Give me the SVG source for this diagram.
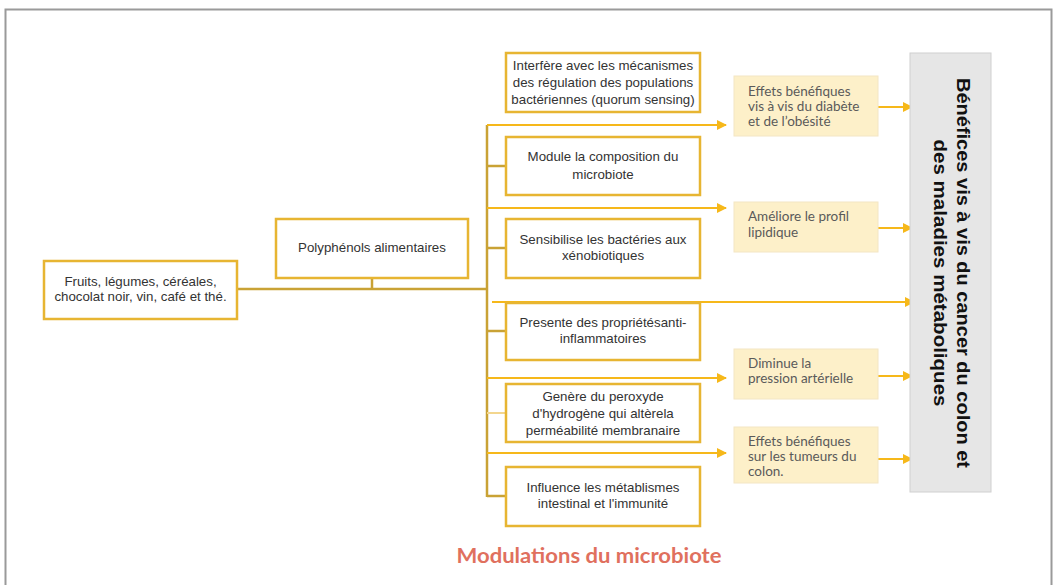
<svg xmlns="http://www.w3.org/2000/svg" width="1056" height="585" viewBox="0 0 1056 585">
<defs>
<marker id="ah" viewBox="0 0 10 10" refX="9" refY="5" markerWidth="10" markerHeight="10" markerUnits="userSpaceOnUse" orient="auto">
<path d="M0,0 L10,5 L0,10 z" fill="#F6B81A"/>
</marker>
</defs>
<style>
.node{fill:#fff;stroke:#E7B532;stroke-width:2.5}
.eff{fill:#FDF0C9;stroke:#F3E6C4;stroke-width:1}
.t{font-family:"Liberation Sans",Arial,sans-serif;font-size:13.3px;fill:#333;text-anchor:middle}
.e{font-family:"Lato","Liberation Sans",sans-serif;font-size:13.5px;fill:#5a5a5a}
.tr{stroke:#C9A235;stroke-width:2.5;fill:none}
.ar{stroke:#F6B81A;stroke-width:2;fill:none;marker-end:url(#ah)}
</style>
<rect width="1056" height="585" fill="#fff"/>
<rect x="5.5" y="9.5" width="1046" height="620" fill="none" stroke="#9a9a9a" stroke-width="2"/>

<g id="connectors">
<path class="tr" d="M237,289 H487"/>
<path class="tr" d="M372,278 V289"/>
<path class="tr" d="M487,125 V497"/>
<path class="tr" d="M487,166 H506"/>
<path class="tr" d="M487,248 H506"/>
<path class="tr" d="M487,331 H506"/>
<path d="M487,413 H506" stroke="#F3D68E" stroke-width="2"/>
<path class="tr" d="M487,496 H506"/>
<path class="ar" d="M487,125 H726"/>
<path class="ar" d="M487,208 H726"/>
<path class="ar" d="M492,302 H914"/>
<path class="ar" d="M487,378 H726"/>
<path class="ar" d="M487,453 H726"/>
<path class="ar" d="M878,107 H912"/>
<path class="ar" d="M878,228 H912"/>
<path class="ar" d="M874,376 H912"/>
<path class="ar" d="M874,459 H912"/>
</g>

<g id="fruits">
<rect class="node" x="44" y="261" width="193" height="58"/>
<text class="t" x="140.5" y="286">Fruits, légumes, céréales,</text>
<text class="t" x="140.5" y="301">chocolat noir, vin, café et thé.</text>
</g>
<g id="polyphenols">
<rect class="node" x="276" y="219" width="192" height="59"/>
<text class="t" x="372" y="252">Polyphénols alimentaires</text>
</g>
<g id="interfere">
<rect class="node" x="506" y="53" width="194" height="59"/>
<text class="t" x="603" y="70">Interfère avec les mécanismes</text>
<text class="t" x="603" y="87">des régulation des populations</text>
<text class="t" x="603" y="104">bactériennes (quorum sensing)</text>
</g>
<g id="module">
<rect class="node" x="506" y="137" width="194" height="58"/>
<text class="t" x="603" y="161">Module la composition du</text>
<text class="t" x="603" y="179">microbiote</text>
</g>
<g id="sensibilise">
<rect class="node" x="506" y="219" width="194" height="59"/>
<text class="t" x="603" y="244">Sensibilise les bactéries aux</text>
<text class="t" x="603" y="260">xénobiotiques</text>
</g>
<g id="presente">
<rect class="node" x="506" y="303" width="194" height="57"/>
<text class="t" x="603" y="327">Presente des propriétésanti-</text>
<text class="t" x="603" y="343">inflammatoires</text>
</g>
<g id="genere">
<rect class="node" x="506" y="384" width="194" height="58"/>
<text class="t" x="603" y="401">Genère du peroxyde</text>
<text class="t" x="603" y="418">d'hydrogène qui altèrela</text>
<text class="t" x="603" y="435">perméabilité membranaire</text>
</g>
<g id="influence">
<rect class="node" x="506" y="467" width="194" height="59"/>
<text class="t" x="603" y="492">Influence les métablismes</text>
<text class="t" x="603" y="508">intestinal et l'immunité</text>
</g>

<g id="effets-diabete">
<rect class="eff" x="734" y="76" width="144" height="60"/>
<text class="e" x="748" y="96">Effets bénéfiques</text>
<text class="e" x="748" y="111">vis à vis du diabète</text>
<text class="e" x="748" y="126">et de l’obésité</text>
</g>
<g id="ameliore">
<rect class="eff" x="734" y="202" width="144" height="50"/>
<text class="e" x="748" y="221">Améliore le profil</text>
<text class="e" x="748" y="237">lipidique</text>
</g>
<g id="diminue">
<rect class="eff" x="734" y="349" width="144" height="50"/>
<text class="e" x="748" y="368">Diminue la</text>
<text class="e" x="748" y="383">pression artérielle</text>
</g>
<g id="tumeurs">
<rect class="eff" x="734" y="427" width="144" height="56"/>
<text class="e" x="748" y="446">Effets bénéfiques</text>
<text class="e" x="748" y="461">sur les tumeurs du</text>
<text class="e" x="748" y="476">colon.</text>
</g>

<g id="benefices">
<rect x="910" y="53" width="81" height="439" fill="#E6E6E6" stroke="#D0D0D0" stroke-width="1"/>
<g transform="translate(950.5,273) rotate(90)" font-family="'Liberation Sans',Arial,sans-serif" font-weight="bold" font-size="18" fill="#111" text-anchor="middle">
<text x="0" y="-6" textLength="390" lengthAdjust="spacingAndGlyphs">Bénéfices vis à vis du cancer du colon et</text>
<text x="0" y="17" textLength="267" lengthAdjust="spacingAndGlyphs">des maladies métaboliques</text>
</g>
</g>

<text x="589" y="563" font-family="Lato,'Liberation Sans',sans-serif" font-weight="bold" font-size="20" fill="#E0705E" text-anchor="middle" textLength="265" lengthAdjust="spacingAndGlyphs">Modulations du microbiote</text>
</svg>
